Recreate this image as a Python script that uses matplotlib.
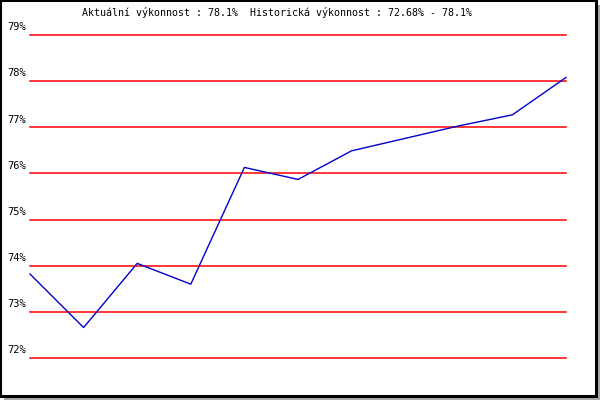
import matplotlib
matplotlib.use("Agg")
from matplotlib import pyplot as plt
from matplotlib.patches import Rectangle

# hodnoty vykonnosti
points = list(range(11))
values = [73.82, 72.66, 74.05, 73.60, 76.13, 75.87, 76.49, 76.76, 77.03, 77.27, 78.08]
levels = [72, 73, 74, 75, 76, 77, 78, 79]
level_labels = ['%d%%' % v for v in levels]
title = "Aktuální výkonnost : 78.1%  Historická výkonnost : 72.68% - 78.1%"

W, H = 600, 400
fig = plt.figure(figsize=(6, 4), dpi=100)
fig.patch.set_facecolor('white')

# ramecek se stinem
fig.add_artist(Rectangle((4 / W, 0), 596 / W, 4 / H, transform=fig.transFigure,
                         facecolor='#a8a8a8', edgecolor='none'))
fig.add_artist(Rectangle((596 / W, 0), 4 / W, 395 / H, transform=fig.transFigure,
                         facecolor='#a8a8a8', edgecolor='none'))
fig.add_artist(Rectangle((0, 4 / H), 596 / W, 396 / H, transform=fig.transFigure,
                         facecolor='none', edgecolor='black', linewidth=2.2))

ax = fig.add_axes([30 / W, 1 - 358 / H, 536 / W, 323 / H])
ax.set_xlim(0, 10)
ax.set_ylim(72, 79)
ax.axis('off')

for lv, lab in zip(levels, level_labels):
    ax.axhline(lv, color='red', linewidth=1.1, zorder=1, clip_on=False)
    ax.annotate(lab, xy=(0, lv), xycoords=('axes fraction', 'data'),
                xytext=(-3, 2), textcoords='offset points',
                ha='right', va='bottom', fontsize=7.5, family='DejaVu Sans Mono')

ax.plot(points, values, color='#0000cc', linewidth=1.0, zorder=2, clip_on=False)

fig.text(82 / W, 1 - 13 / H, title, ha='left', va='center',
         fontsize=7.2, family='DejaVu Sans Mono')

fig.savefig('out.png', dpi=100)
